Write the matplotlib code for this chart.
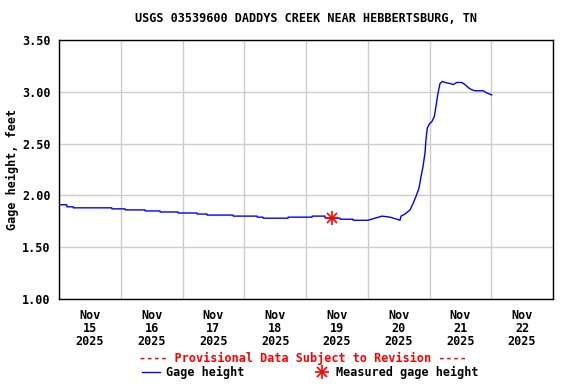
## USGS gage height plot - Daddys Creek near Hebbertsburg, TN

import pandas as pd
import matplotlib
matplotlib.use("Agg")
import matplotlib.pyplot as plt
import matplotlib.dates as mdates
from matplotlib.lines import Line2D

# data (perkiraan)
times = [
    "2025-11-15 00:00", "2025-11-15 03:00", "2025-11-15 03:05", "2025-11-15 05:30",
    "2025-11-15 05:35", "2025-11-15 20:30", "2025-11-15 20:35", "2025-11-16 01:40",
    "2025-11-16 01:45", "2025-11-16 09:25", "2025-11-16 09:30", "2025-11-16 15:15",
    "2025-11-16 15:20", "2025-11-16 22:15", "2025-11-16 22:20", "2025-11-17 05:38",
    "2025-11-17 05:43", "2025-11-17 09:30", "2025-11-17 09:35", "2025-11-17 19:38",
    "2025-11-17 19:43", "2025-11-18 04:57", "2025-11-18 05:02", "2025-11-18 07:17",
    "2025-11-18 07:22", "2025-11-18 17:00", "2025-11-18 17:05", "2025-11-19 02:20",
    "2025-11-19 02:25", "2025-11-19 07:23", "2025-11-19 07:28", "2025-11-19 13:13",
    "2025-11-19 13:18", "2025-11-19 18:16", "2025-11-19 18:21", "2025-11-20 00:06",
    "2025-11-20 02:49", "2025-11-20 05:33", "2025-11-20 08:38", "2025-11-20 11:22",
    "2025-11-20 12:32", "2025-11-20 12:55", "2025-11-20 14:28", "2025-11-20 16:25",
    "2025-11-20 17:35", "2025-11-20 18:45", "2025-11-20 19:55", "2025-11-20 20:41",
    "2025-11-20 21:29", "2025-11-20 22:15", "2025-11-20 22:38", "2025-11-20 23:08",
    "2025-11-20 23:56", "2025-11-21 00:52", "2025-11-21 01:52", "2025-11-21 02:31",
    "2025-11-21 03:11", "2025-11-21 04:05", "2025-11-21 04:58", "2025-11-21 06:01",
    "2025-11-21 07:58", "2025-11-21 09:15", "2025-11-21 10:35", "2025-11-21 12:31",
    "2025-11-21 13:48", "2025-11-21 15:05", "2025-11-21 16:24", "2025-11-21 17:41",
    "2025-11-21 20:54", "2025-11-21 22:13", "2025-11-22 00:10",
]
gage = [
    1.91, 1.91, 1.89, 1.89,
    1.88, 1.88, 1.87, 1.87,
    1.86, 1.86, 1.85, 1.85,
    1.84, 1.84, 1.83, 1.83,
    1.82, 1.82, 1.81, 1.81,
    1.80, 1.80, 1.79, 1.79,
    1.78, 1.78, 1.79, 1.79,
    1.80, 1.80, 1.78, 1.78,
    1.77, 1.77, 1.76, 1.76,
    1.78, 1.80, 1.79, 1.77,
    1.76, 1.80, 1.82, 1.86,
    1.92, 1.99, 2.07, 2.18,
    2.28, 2.41, 2.54, 2.65,
    2.69, 2.71, 2.76, 2.86,
    2.97, 3.08, 3.10, 3.09,
    3.08, 3.07, 3.09, 3.09,
    3.07, 3.04, 3.02, 3.01,
    3.01, 2.99, 2.97,
]

measured_time = ["2025-11-19 10:13"]
measured_gage = [1.78]

y_ticks = [1.00, 1.50, 2.00, 2.50, 3.00, 3.50]

t = pd.to_datetime(times)
tm = pd.to_datetime(measured_time)

font = {"family": "DejaVu Sans Mono", "weight": "bold"}
plt.rcParams["font.family"] = "DejaVu Sans Mono"
plt.rcParams["font.weight"] = "bold"

fig = plt.figure(figsize=(5.76, 3.84), dpi=100)
ax = fig.add_axes([59 / 576, 1 - 299 / 384, 494 / 576, 259 / 384])

ax.plot(t, gage, color="blue", lw=1)
ax.plot(tm, measured_gage, ls="none", marker="+", ms=10, mew=1.2, color="red")
ax.plot(tm, measured_gage, ls="none", marker="x", ms=7.5, mew=1.2, color="red")

ax.set_xlim(pd.Timestamp("2025-11-15"), pd.Timestamp("2025-11-23"))
ax.set_ylim(1.0, 3.5)

# grid di tengah malam, label di tengah hari
ax.xaxis.set_major_locator(mdates.DayLocator())
ax.xaxis.set_minor_locator(mdates.HourLocator(byhour=[12]))
ax.xaxis.set_major_formatter(plt.NullFormatter())
ax.xaxis.set_minor_formatter(mdates.DateFormatter("%b\n%d\n%Y"))
ax.tick_params(axis="x", which="both", length=0, labelsize=8.5, pad=7)
ax.set_yticks(y_ticks)
ax.set_yticklabels([f"{v:.2f}" for v in y_ticks])
ax.tick_params(axis="y", length=0, labelsize=8.5, pad=6)
for lab in ax.get_xticklabels(minor=True):
    lab.set_linespacing(1.0)

ax.grid(True, which="major", color="#cccccc", lw=1)
ax.set_axisbelow(True)
for s in ax.spines.values():
    s.set_linewidth(1)
    s.set_color("black")

ax.set_ylabel("Gage height, feet", fontsize=8.5, labelpad=2, **font)
fig.text(0.531, 1 - 19 / 384, "USGS 03539600 DADDYS CREEK NEAR HEBBERTSBURG, TN",
         ha="center", va="center", fontsize=8.5, **font)

# keterangan / legend
fig.text(303 / 576, 1 - 358 / 384, "---- Provisional Data Subject to Revision ----",
         ha="center", va="center", color="red", fontsize=8.5, **font)
fig.add_artist(Line2D([142 / 576, 160 / 576], [1 - 372 / 384] * 2, color="blue", lw=1))
fig.text(166 / 576, 1 - 372 / 384, "Gage height", ha="left", va="center", fontsize=8.5, **font)
fig.add_artist(Line2D([322 / 576], [1 - 372 / 384], ls="none", marker="+", ms=10, mew=1.2, color="red"))
fig.add_artist(Line2D([322 / 576], [1 - 372 / 384], ls="none", marker="x", ms=7.5, mew=1.2, color="red"))
fig.text(336 / 576, 1 - 372 / 384, "Measured gage height", ha="left", va="center", fontsize=8.5, **font)

fig.savefig("out.png", dpi=100)
